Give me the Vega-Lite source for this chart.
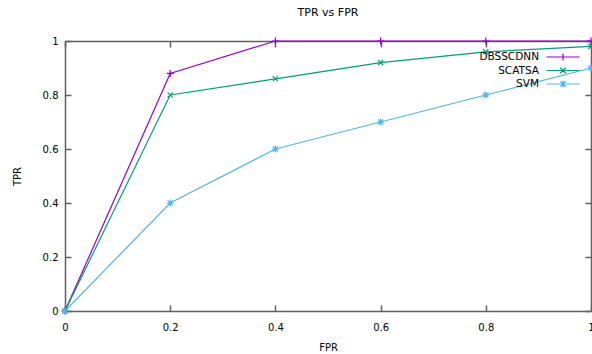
{
  "$schema": "https://vega.github.io/schema/vega-lite/v6.json",
  "width": 526,
  "height": 270,
  "autosize": {"type": "none"},
  "padding": {"left": 65, "top": 41, "right": 1, "bottom": 43},
  "background": "white",
  "title": {"text": "TPR vs FPR", "font": "DejaVu Sans", "fontSize": 11, "fontWeight": "normal", "color": "#000000", "anchor": "middle", "offset": 17},
  "config": {
    "view": {"stroke": null},
    "font": "DejaVu Sans",
    "axis": {"grid": false, "domainColor": "#606060", "tickColor": "#606060", "labelColor": "#000000", "titleColor": "#000000", "labelFont": "DejaVu Sans", "titleFont": "DejaVu Sans", "labelFontSize": 10, "titleFontSize": 10, "titleFontWeight": "normal", "tickSize": -6, "domainWidth": 1.5, "tickWidth": 1.5}
  },
  "data": {"values": [
    {"fpr": 0, "tpr": 0, "model": "DBSSCDNN"},
    {"fpr": 0.2, "tpr": 0.88, "model": "DBSSCDNN"},
    {"fpr": 0.4, "tpr": 1, "model": "DBSSCDNN"},
    {"fpr": 0.6, "tpr": 1, "model": "DBSSCDNN"},
    {"fpr": 0.8, "tpr": 1, "model": "DBSSCDNN"},
    {"fpr": 1, "tpr": 1, "model": "DBSSCDNN"},
    {"fpr": 0, "tpr": 0, "model": "SCATSA"},
    {"fpr": 0.2, "tpr": 0.8, "model": "SCATSA"},
    {"fpr": 0.4, "tpr": 0.86, "model": "SCATSA"},
    {"fpr": 0.6, "tpr": 0.92, "model": "SCATSA"},
    {"fpr": 0.8, "tpr": 0.96, "model": "SCATSA"},
    {"fpr": 1, "tpr": 0.98, "model": "SCATSA"},
    {"fpr": 0, "tpr": 0, "model": "SVM"},
    {"fpr": 0.2, "tpr": 0.4, "model": "SVM"},
    {"fpr": 0.4, "tpr": 0.6, "model": "SVM"},
    {"fpr": 0.6, "tpr": 0.7, "model": "SVM"},
    {"fpr": 0.8, "tpr": 0.8, "model": "SVM"},
    {"fpr": 1, "tpr": 0.9, "model": "SVM"}
  ]},
  "layer": [
    {
      "mark": {"type": "line", "strokeWidth": 1.2, "clip": false},
      "encoding": {
        "x": {"field": "fpr", "type": "quantitative", "scale": {"domain": [0, 1], "nice": false}, "axis": {"orient": "bottom", "title": "FPR", "values": [0, 0.2, 0.4, 0.6, 0.8, 1], "format": "~g", "labelPadding": 17, "titlePadding": 10, "labelFlush": false}},
        "y": {"field": "tpr", "type": "quantitative", "scale": {"domain": [0, 1], "nice": false}, "axis": {"orient": "left", "title": "TPR", "values": [0, 0.2, 0.4, 0.6, 0.8, 1], "format": "~g", "labelPadding": 13, "titlePadding": 20, "labelFlush": false}},
        "color": {"field": "model", "type": "nominal", "scale": {"domain": ["DBSSCDNN", "SCATSA", "SVM"], "range": ["#9400d3", "#009e73", "#56b4e9"]},
          "legend": {"title": null, "orient": "none", "legendX": 492, "legendY": 10, "labelFont": "DejaVu Sans", "labelFontSize": 10.5, "labelColor": "#000000", "labelAlign": "right", "labelOffset": -30, "symbolSize": 100, "symbolStrokeWidth": 1.2, "rowPadding": 1.5, "symbolType": "M-3.3,0L3.3,0",
            "encode": {"symbols": {"update": {"shape": {"signal": "datum.value === 'DBSSCDNN' ? 'M-3.3,0L3.3,0M0,-0.7L0,0.7' : datum.value === 'SCATSA' ? 'M-3.3,0L3.3,0M-0.55,-0.55L0.55,0.55M-0.55,0.55L0.55,-0.55' : 'M-3.3,0L3.3,0M0,-0.7L0,0.7M-0.55,-0.55L0.55,0.55M-0.55,0.55L0.55,-0.55'"}}}}}}
      }
    },
    {
      "transform": [{"filter": "datum.model === 'DBSSCDNN'"}],
      "mark": {"type": "point", "filled": false, "size": 49, "strokeWidth": 1.2, "opacity": 1, "clip": false, "shape": "M-1,0L1,0M0,-1L0,1"},
      "encoding": {
        "x": {"field": "fpr", "type": "quantitative", "axis": {"orient": "top", "title": null, "labels": false, "values": [0, 0.2, 0.4, 0.6, 0.8, 1]}},
        "y": {"field": "tpr", "type": "quantitative", "axis": {"orient": "right", "title": null, "labels": false, "values": [0, 0.2, 0.4, 0.6, 0.8, 1]}},
        "color": {"field": "model", "type": "nominal", "legend": null}
      }
    },
    {
      "transform": [{"filter": "datum.model === 'SCATSA'"}],
      "mark": {"type": "point", "filled": false, "size": 49, "strokeWidth": 1.2, "opacity": 1, "clip": false, "shape": "M-0.75,-0.75L0.75,0.75M-0.75,0.75L0.75,-0.75"},
      "encoding": {
        "x": {"field": "fpr", "type": "quantitative", "axis": null},
        "y": {"field": "tpr", "type": "quantitative", "axis": null},
        "color": {"field": "model", "type": "nominal", "legend": null}
      }
    },
    {
      "transform": [{"filter": "datum.model === 'SVM'"}],
      "mark": {"type": "point", "filled": false, "size": 49, "strokeWidth": 1.2, "opacity": 1, "clip": false, "shape": "M-1,0L1,0M0,-1L0,1M-0.75,-0.75L0.75,0.75M-0.75,0.75L0.75,-0.75"},
      "encoding": {
        "x": {"field": "fpr", "type": "quantitative", "axis": null},
        "y": {"field": "tpr", "type": "quantitative", "axis": null},
        "color": {"field": "model", "type": "nominal", "legend": null}
      }
    }
  ],
  "resolve": {"axis": {"x": "independent", "y": "independent"}}
}
